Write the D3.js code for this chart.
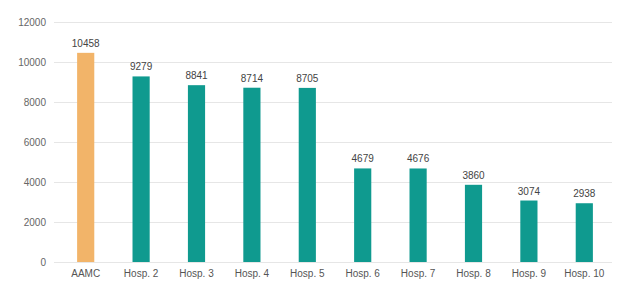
<!DOCTYPE html>
<html>
<head>
<meta charset="utf-8">
<script src="https://cdn.jsdelivr.net/npm/d3@7"></script>
<style>
  html, body { margin: 0; padding: 0; background: #fff; }
  svg { display: block; font-family: "Liberation Sans", Arial, sans-serif; }
</style>
</head>
<body>
<div id="chart"></div>
<script>
// Data
const categories = ['AAMC', 'Hosp. 2', 'Hosp. 3', 'Hosp. 4', 'Hosp. 5', 'Hosp. 6', 'Hosp. 7', 'Hosp. 8', 'Hosp. 9', 'Hosp. 10'];
const values = [10458, 9279, 8841, 8714, 8705, 4679, 4676, 3860, 3074, 2938];
const yTicks = [0, 2000, 4000, 6000, 8000, 10000, 12000];

const W = 620, H = 284;
const margin = { top: 22, right: 8, bottom: 22, left: 58 };
const width = W - margin.left - margin.right;
const height = H - margin.top - margin.bottom;

const svg = d3.select('#chart').append('svg')
  .attr('width', W).attr('height', H);

const g = svg.append('g')
  .attr('transform', `translate(${margin.left},${margin.top})`);

const x = d3.scaleBand()
  .domain(categories)
  .range([0, width])
  .paddingInner(0.69)
  .paddingOuter(0.345);

const y = d3.scaleLinear()
  .domain([0, 12000])
  .range([height, 0]);

// Gridlines
g.selectAll('.grid').data(yTicks)
  .join('line')
  .attr('class', 'grid')
  .attr('x1', -4).attr('x2', width)
  .attr('y1', d => y(d) + 0.5).attr('y2', d => y(d) + 0.5)
  .attr('stroke', '#e6e6e6')
  .attr('stroke-width', 1);

// Y tick labels
g.selectAll('.ylab').data(yTicks)
  .join('text')
  .attr('class', 'ylab')
  .attr('x', -12)
  .attr('y', d => y(d) + 4)
  .attr('text-anchor', 'end')
  .attr('fill', '#666')
  .attr('font-size', '10px')
  .text(d => d);

// Bars
g.selectAll('.bar').data(values)
  .join('rect')
  .attr('class', 'bar')
  .attr('x', (d, i) => x(categories[i]))
  .attr('y', d => y(d))
  .attr('width', x.bandwidth())
  .attr('height', d => height - y(d))
  .attr('fill', (d, i) => i === 0 ? '#f2b469' : '#0f9a8f');

// Value labels
g.selectAll('.vlab').data(values)
  .join('text')
  .attr('class', 'vlab')
  .attr('x', (d, i) => x(categories[i]) + x.bandwidth() / 2)
  .attr('y', d => y(d) - 6)
  .attr('text-anchor', 'middle')
  .attr('fill', '#444')
  .attr('font-size', '10px')
  .text(d => d);

// Category labels
g.selectAll('.xlab').data(categories)
  .join('text')
  .attr('class', 'xlab')
  .attr('x', d => x(d) + x.bandwidth() / 2)
  .attr('y', height + 15)
  .attr('text-anchor', 'middle')
  .attr('fill', '#555')
  .attr('font-size', '10px')
  .text(d => d);
</script>
</body>
</html>
